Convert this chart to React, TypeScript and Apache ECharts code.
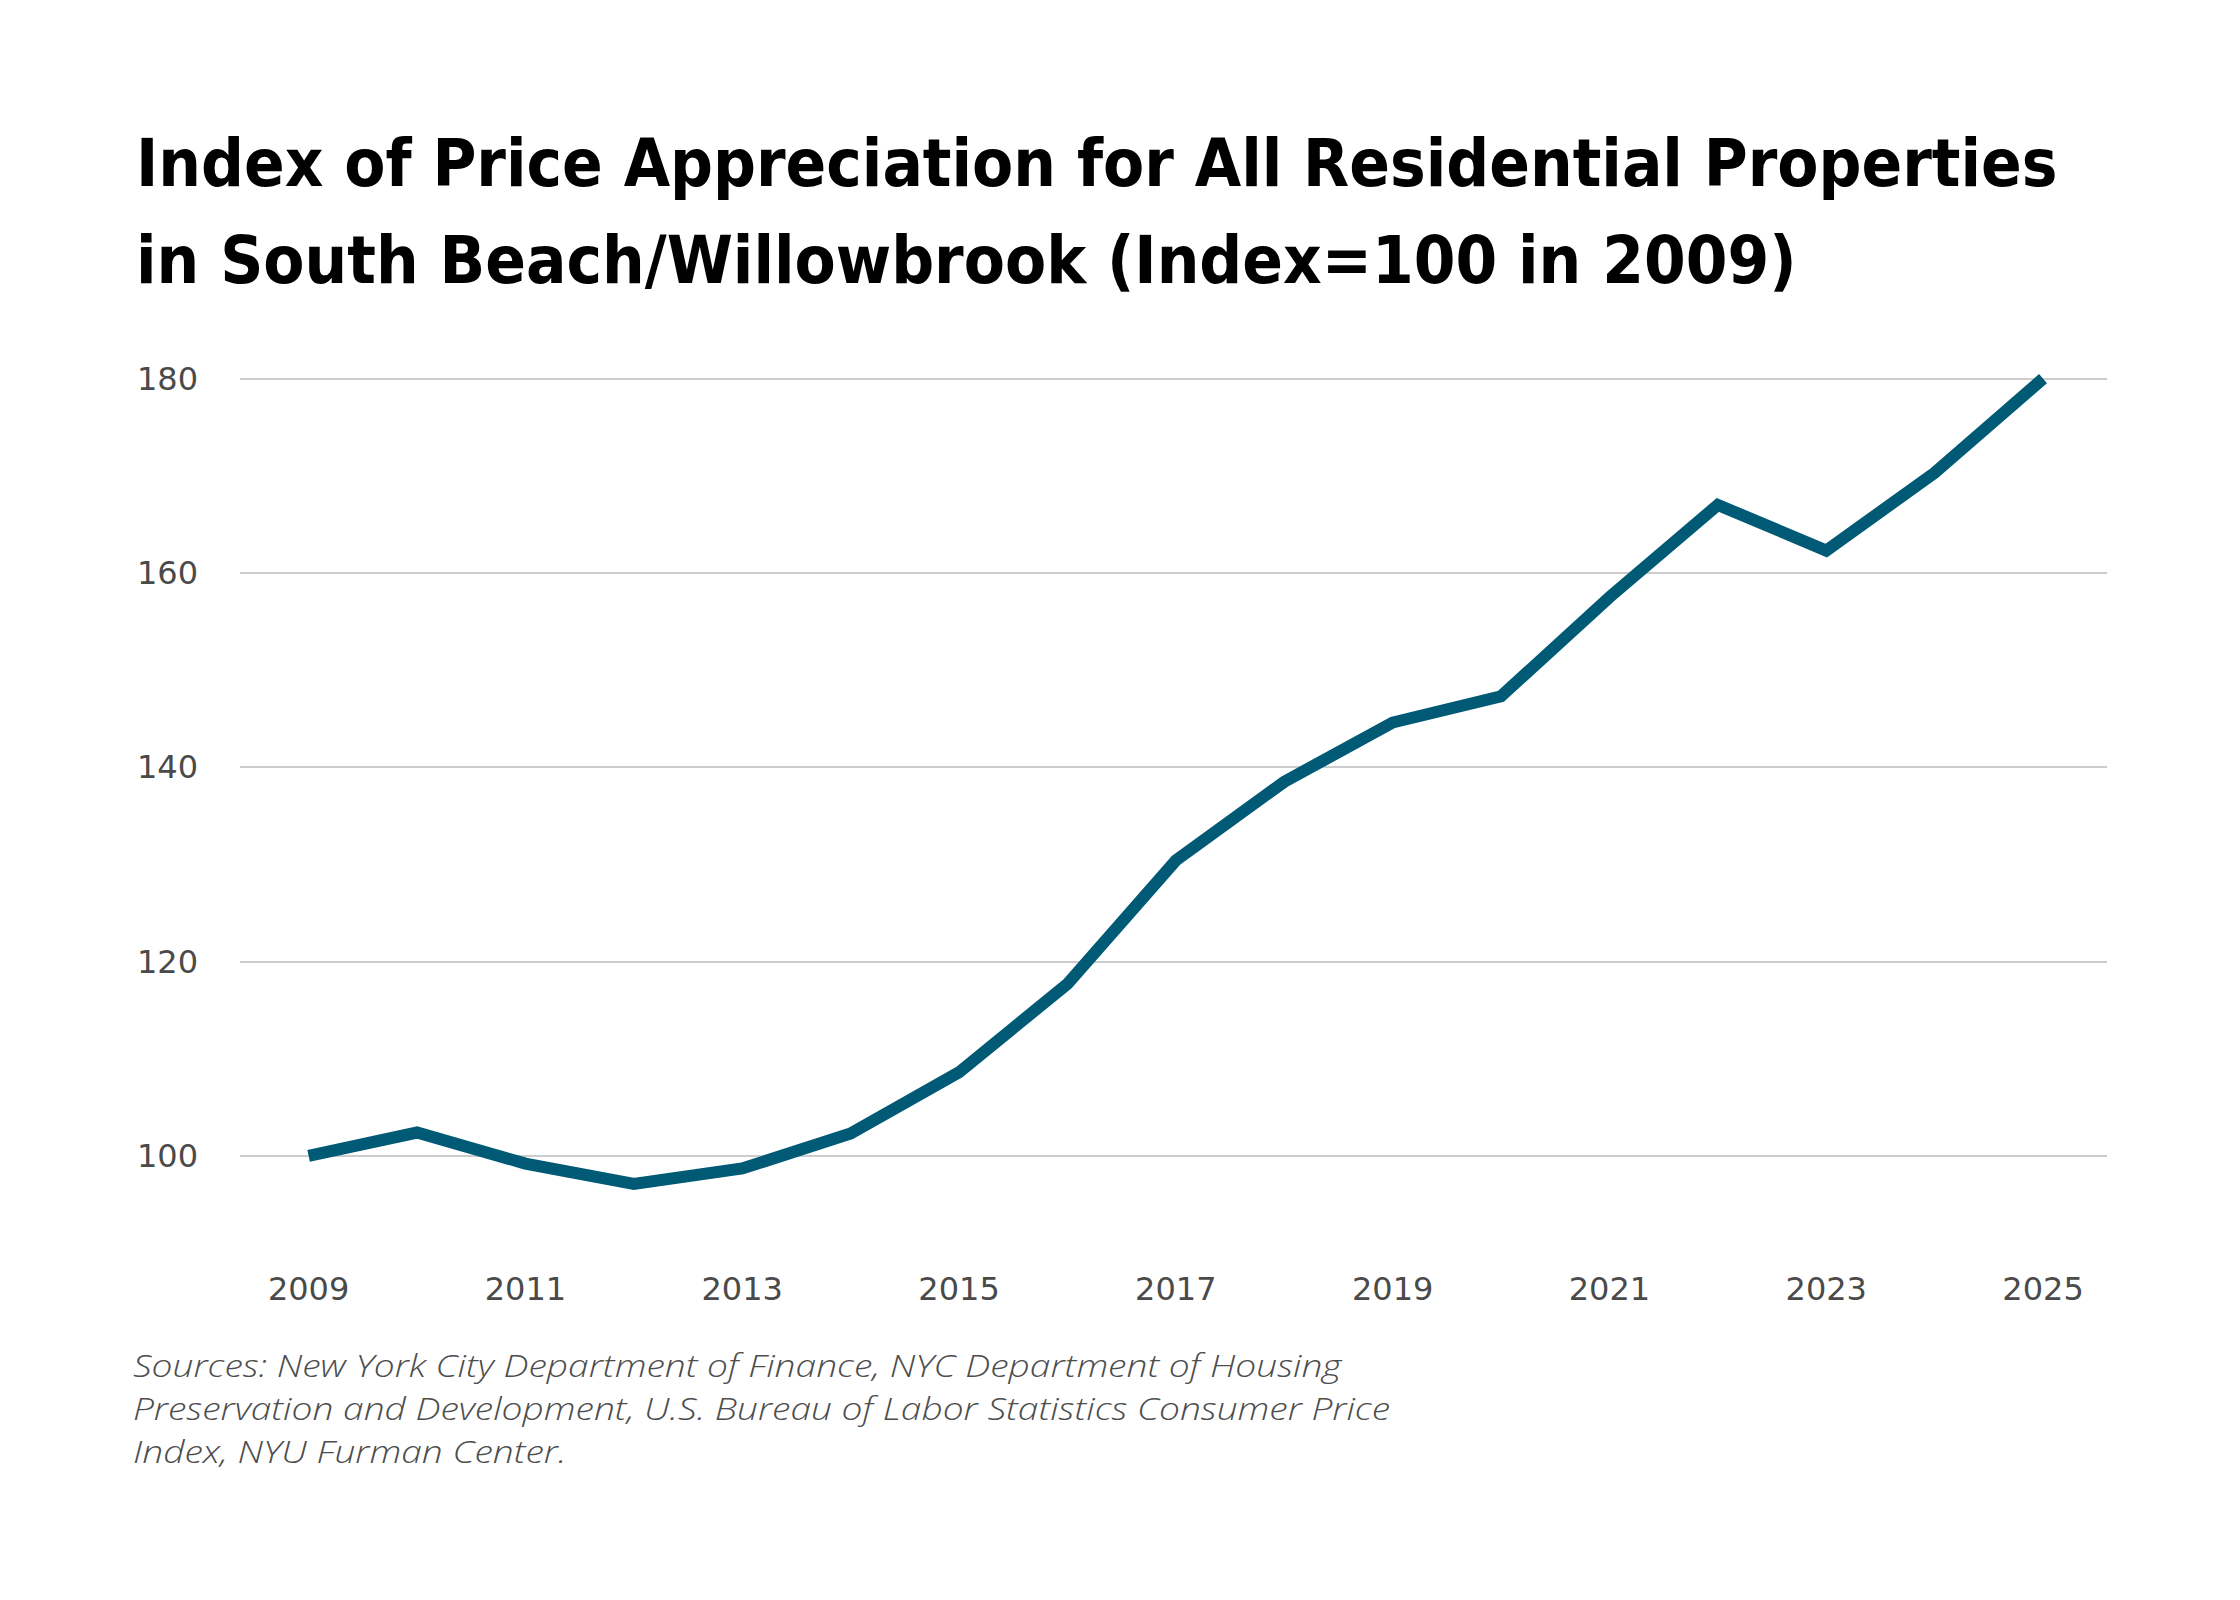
import React, { useEffect, useRef } from "react";
import * as echarts from "echarts";

const years = [2009, 2010, 2011, 2012, 2013, 2014, 2015, 2016, 2017, 2018, 2019, 2020, 2021, 2022, 2023, 2024, 2025];
const indexValues = [100, 102.4, 99.2, 97.1, 98.7, 102.3, 108.6, 117.7, 130.4, 138.5, 144.6, 147.3, 157.5, 167.0, 162.3, 170.3, 180.0];
const xTickLabels = [2009, 2011, 2013, 2015, 2017, 2019, 2021, 2023, 2025];
const yTickLabels = [100, 120, 140, 160, 180];
const titleLines = [
  "Index of Price Appreciation for All Residential Properties",
  "in South Beach/Willowbrook (Index=100 in 2009)",
];
const sourceLines = [
  "Sources: New York City Department of Finance, NYC Department of Housing",
  "Preservation and Development, U.S. Bureau of Labor Statistics Consumer Price",
  "Index, NYU Furman Center.",
];

export default function App() {
  const ref = useRef<HTMLDivElement>(null);
  useEffect(() => {
    document.body.style.margin = "0";
    const chart = echarts.init(ref.current!, null, { renderer: "svg" });
    chart.setOption({
      animation: false,
      backgroundColor: "#ffffff",
      title: {
        text: titleLines.join("\n"),
        left: 136,
        top: 114,
        padding: 0,
        textStyle: {
          fontFamily: "'Liberation Sans Narrow', 'DejaVu Sans Condensed', sans-serif",
          fontWeight: "bold",
          fontSize: 66.7,
          lineHeight: 97,
          color: "#000000",
        },
      },
      graphic: sourceLines.map((line, i) => ({
        type: "text",
        x: 133,
        y: 1349 + i * 43,
        scaleX: 1.18,
        style: {
          text: line,
          fontFamily: "'Open Sans', Lato, sans-serif",
          fontStyle: "italic",
          fontWeight: 300,
          fontSize: 31.5,
          verticalAlign: "top",
          align: "left",
          fill: "#4d4d4d",
        },
      })),
      grid: { left: 240, right: 133, top: 378.6, bottom: 347, containLabel: false },
      xAxis: {
        type: "value",
        min: 2008.367,
        max: 2025.59,
        axisLine: { show: false },
        axisTick: { show: false, customValues: xTickLabels },
        splitLine: { show: false },
        axisLabel: {
          customValues: xTickLabels,
          margin: 20,
          fontFamily: "'DejaVu Sans', sans-serif",
          fontSize: 32,
          color: "#4a4a4a",
          formatter: (v: number) => String(v),
        },
      },
      yAxis: {
        type: "value",
        min: 90,
        max: 180,
        axisLine: { show: false },
        axisTick: { show: false, customValues: yTickLabels },
        splitLine: { show: true, lineStyle: { color: "#cccccc", width: 2 } },
        axisLabel: {
          customValues: yTickLabels,
          margin: 42,
          fontFamily: "'DejaVu Sans', sans-serif",
          fontSize: 32,
          color: "#4a4a4a",
        },
      },
      series: [
        {
          type: "line",
          data: years.map((y, i) => [y, indexValues[i]]),
          showSymbol: false,
          symbol: "none",
          lineStyle: { color: "#015a75", width: 12, cap: "butt", join: "miter" },
        },
      ],
    });
    return () => chart.dispose();
  }, []);
  return <div ref={ref} style={{ width: 2240, height: 1600 }} />;
}
